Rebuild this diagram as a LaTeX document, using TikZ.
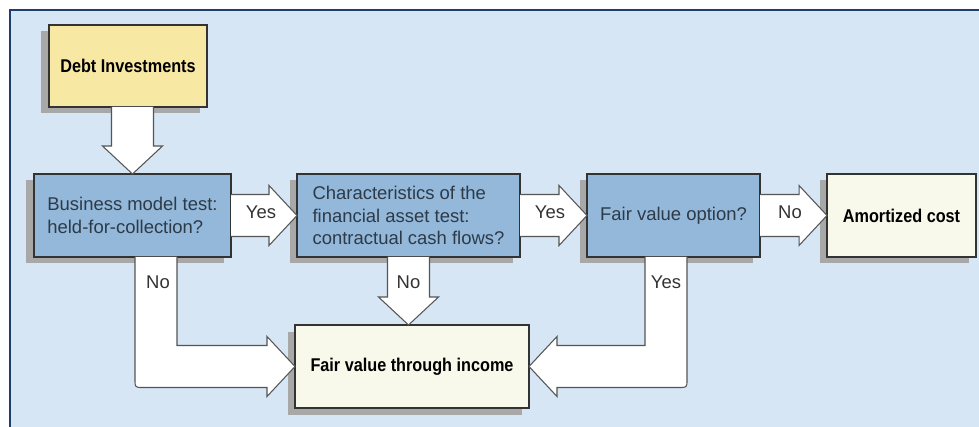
\documentclass[tikz,border=0pt]{standalone}
\usepackage{fontspec}
\setmainfont{Liberation Sans}
\newfontfamily\narrowbf[FakeStretch=0.88]{Liberation Sans}
\usetikzlibrary{calc,positioning,shadows}
\definecolor{panelblue}{RGB}{214,230,245}
\definecolor{panelline}{RGB}{30,62,110}
\definecolor{testblue}{RGB}{147,184,218}
\definecolor{startyellow}{RGB}{247,232,164}
\definecolor{resultcream}{RGB}{248,248,235}
\definecolor{boxshadow}{RGB}{168,168,168}
\definecolor{testtext}{RGB}{45,58,72}
\definecolor{arrowline}{RGB}{85,85,85}
\tikzset{
  box/.style={rectangle, draw=black!80, line width=0.8pt, minimum height=16.6mm, inner sep=0pt, outer sep=0pt,
    drop shadow={shadow xshift=-1.5mm, shadow yshift=-1.3mm, fill=boxshadow, opacity=1}},
  test/.style={box, fill=testblue, text=testtext, align=left, font=\fontsize{10.5}{13}\selectfont},
  result/.style={box, fill=resultcream, font=\fontsize{10.5}{13}\narrowbf\bfseries},
  fat/.style={fill=white, draw=arrowline, line width=0.6pt},
  answer/.style={text=black!80, font=\fontsize{10.5}{13}\selectfont}
}

\begin{document}
\begin{tikzpicture}[x=0.2mm,y=-0.2mm]
      \pgfmathsetmacro{\sw}{21};
      \pgfmathsetmacro{\hw}{30};
      \pgfmathsetmacro{\hl}{28};
      \useasboundingbox (0,0) rectangle (979,427);
      % panel
      \begin{scope}
        \clip (0,0) rectangle (979,427);
        \fill[panelblue] (10,10) rectangle (990,440);
        \draw[panelline, line width=1.2pt] (10,440) -- (10,10) -- (990,10);
      \end{scope}
      % boxes
      \node[test, minimum width=39.4mm] (BusinessTest) at (132.5,215.5) {Business model test:\\held-for-collection?};
      \node[test, minimum width=44.6mm, right=13.2mm of BusinessTest] (CashFlowTest) {Characteristics of the\\financial asset test:\\contractual cash flows?};
      \node[test, minimum width=34.6mm, right=13.4mm of CashFlowTest] (FairValueOption) {Fair value option?};
      \node[result, minimum width=29.8mm, right=13.4mm of FairValueOption] (AmortizedCost) {Amortized cost};
      \node[result, fill=startyellow, minimum width=31.6mm, minimum height=16.4mm, above=13.4mm of BusinessTest, xshift=-0.9mm] (DebtInvestments) {Debt Investments};
      \node[result, minimum width=46.8mm, below=13.6mm of CashFlowTest, xshift=0.7mm] (FairValueIncome) {Fair value through income};
      %
      \coordinate (DebtOut) at (BusinessTest.north |- DebtInvestments.south);
      \draw[fat] ($(DebtOut)+(-\sw,0)$) -- ($(BusinessTest.north)+(-\sw,-\hl)$) -- ($(BusinessTest.north)+(-\hw,-\hl)$) -- (BusinessTest.north) -- ($(BusinessTest.north)+(\hw,-\hl)$) -- ($(BusinessTest.north)+(\sw,-\hl)$) -- ($(DebtOut)+(\sw,0)$);
      %
      \foreach \a/\b/\t in {BusinessTest/CashFlowTest/Yes, CashFlowTest/FairValueOption/Yes, FairValueOption/AmortizedCost/No} {
        \draw[fat] ($(\a.east)+(0,-\sw)$) -- ($(\b.west)+(-\hl,-\sw)$) -- ($(\b.west)+(-\hl,-\hw)$) -- (\b.west) -- ($(\b.west)+(-\hl,\hw)$) -- ($(\b.west)+(-\hl,\sw)$) -- ($(\a.east)+(0,\sw)$);
        \node[answer] (\a-answer) at ($(\a.east)+(30,-3)$) {\t};
      }
      %
      \coordinate (CashFlowNo) at (CashFlowTest.south |- FairValueIncome.north);
      \draw[fat] ($(CashFlowTest.south)+(-\sw,0)$) -- ($(CashFlowNo)+(-\sw,-\hl)$) -- ($(CashFlowNo)+(-\hw,-\hl)$) -- (CashFlowNo) -- ($(CashFlowNo)+(\hw,-\hl)$) -- ($(CashFlowNo)+(\sw,-\hl)$) -- ($(CashFlowTest.south)+(\sw,0)$);
      \node[answer] (CashFlowNoLabel) at ($(CashFlowTest.south)+(0,25)$) {No};
      %
      \coordinate (BusinessNo) at ($(BusinessTest.south)+(23.5,0)$);
      \coordinate (BusinessBend) at (BusinessNo |- FairValueIncome.west);
      \draw[fat] ($(BusinessNo)+(-\sw,0)$) -- ($(BusinessBend)+(-\sw,\sw-8)$) .. controls ($(BusinessBend)+(-\sw,\sw)$) .. ($(BusinessBend)+(8-\sw,\sw)$) -- ($(FairValueIncome.west)+(-\hl,\sw)$) -- ($(FairValueIncome.west)+(-\hl,\hw)$) -- (FairValueIncome.west) -- ($(FairValueIncome.west)+(-\hl,-\hw)$) -- ($(FairValueIncome.west)+(-\hl,-\sw)$) -- ($(BusinessBend)+(\sw,-\sw)$) -- ($(BusinessNo)+(\sw,0)$);
      \node[answer] (BusinessNoLabel) at ($(BusinessNo)+(2,25)$) {No};
      %
      \coordinate (OptionYes) at ($(FairValueOption.south)+(-7.5,0)$);
      \coordinate (OptionBend) at (OptionYes |- FairValueIncome.east);
      \draw[fat] ($(OptionYes)+(\sw,0)$) -- ($(OptionBend)+(\sw,\sw-8)$) .. controls ($(OptionBend)+(\sw,\sw)$) .. ($(OptionBend)+(\sw-8,\sw)$) -- ($(FairValueIncome.east)+(\hl,\sw)$) -- ($(FairValueIncome.east)+(\hl,\hw)$) -- (FairValueIncome.east) -- ($(FairValueIncome.east)+(\hl,-\hw)$) -- ($(FairValueIncome.east)+(\hl,-\sw)$) -- ($(OptionBend)+(-\sw,-\sw)$) -- ($(OptionYes)+(-\sw,0)$);
      \node[answer] (OptionYesLabel) at ($(OptionYes)+(0,25)$) {Yes};
\end{tikzpicture}
\end{document}
